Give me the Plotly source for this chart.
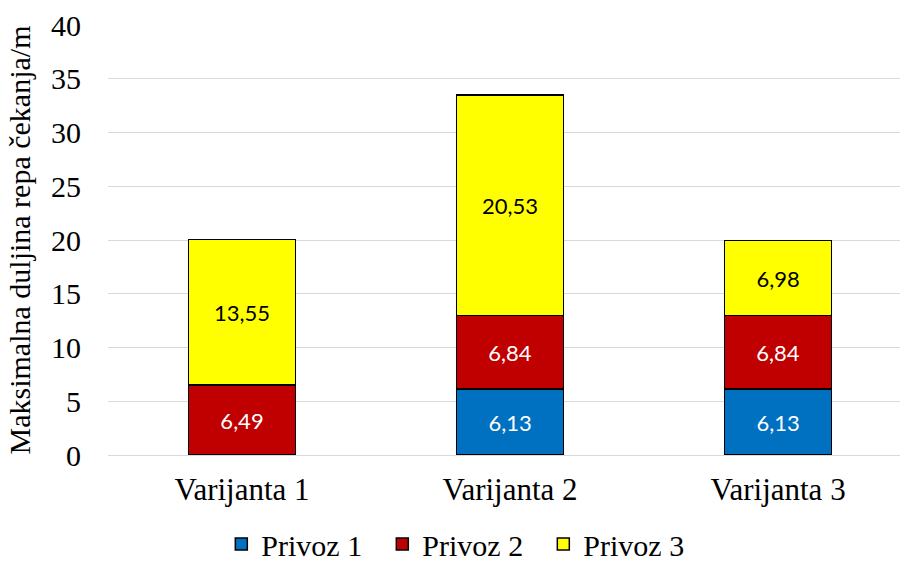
import plotly.graph_objects as go

categories = ["Varijanta 1", "Varijanta 2", "Varijanta 3"]
privoz1 = [None, 6.13, 6.13]
privoz2 = [6.49, 6.84, 6.84]
privoz3 = [13.55, 20.53, 6.98]
series_names = ["Privoz 1", "Privoz 2", "Privoz 3"]
y_ticks = [0, 5, 10, 15, 20, 25, 30, 35, 40]

colors = ["#0070C0", "#C00000", "#FFFF00"]
text_colors = ["white", "white", "black"]
SERIF = "Times New Roman, Liberation Serif, DejaVu Serif, serif"


def fmt(v):
    return "" if v is None else f"{v:.2f}".replace(".", ",")


fig = go.Figure()
for name, vals, col, tcol in zip(series_names, [privoz1, privoz2, privoz3], colors, text_colors):
    fig.add_trace(go.Bar(
        x=categories, y=vals, name=name,
        marker=dict(color=col, line=dict(color="black", width=1.5)),
        text=[fmt(v) for v in vals], textposition="inside",
        insidetextanchor="middle", textangle=0,
        textfont=dict(family="Lato", size=22, color=tcol),
        hoverinfo="skip",
    ))

fig.update_layout(
    barmode="stack", bargap=0.6,
    width=900, height=562,
    margin=dict(l=108, r=0, t=25, b=107, autoexpand=False),
    plot_bgcolor="white", paper_bgcolor="white",
    font=dict(family=SERIF, size=30, color="black"),
    showlegend=True,
    legend=dict(orientation="h", x=0.448, xanchor="center", y=-0.207, yanchor="middle",
                font=dict(family=SERIF, size=30), traceorder="normal",
                itemwidth=30, entrywidthmode="pixels", entrywidth=116),
    xaxis=dict(range=[-0.5, 2.455], showline=False, ticks="", ticklabelstandoff=13,
               tickfont=dict(family=SERIF, size=31)),
    yaxis=dict(range=[0, 40], tickvals=y_ticks, showgrid=True, gridcolor="#D9D9D9",
               gridwidth=1.3, zeroline=True, zerolinecolor="#D9D9D9", zerolinewidth=1.3,
               showline=False, ticks="", ticklabelstandoff=26,
               tickfont=dict(family=SERIF, size=30),
               title=dict(text="Maksimalna duljina repa čekanja/m", standoff=11,
                          font=dict(family=SERIF, size=30))),
)

fig.write_html("out.html", config={"displayModeBar": False},
               post_script="document.body.style.margin='0';")
